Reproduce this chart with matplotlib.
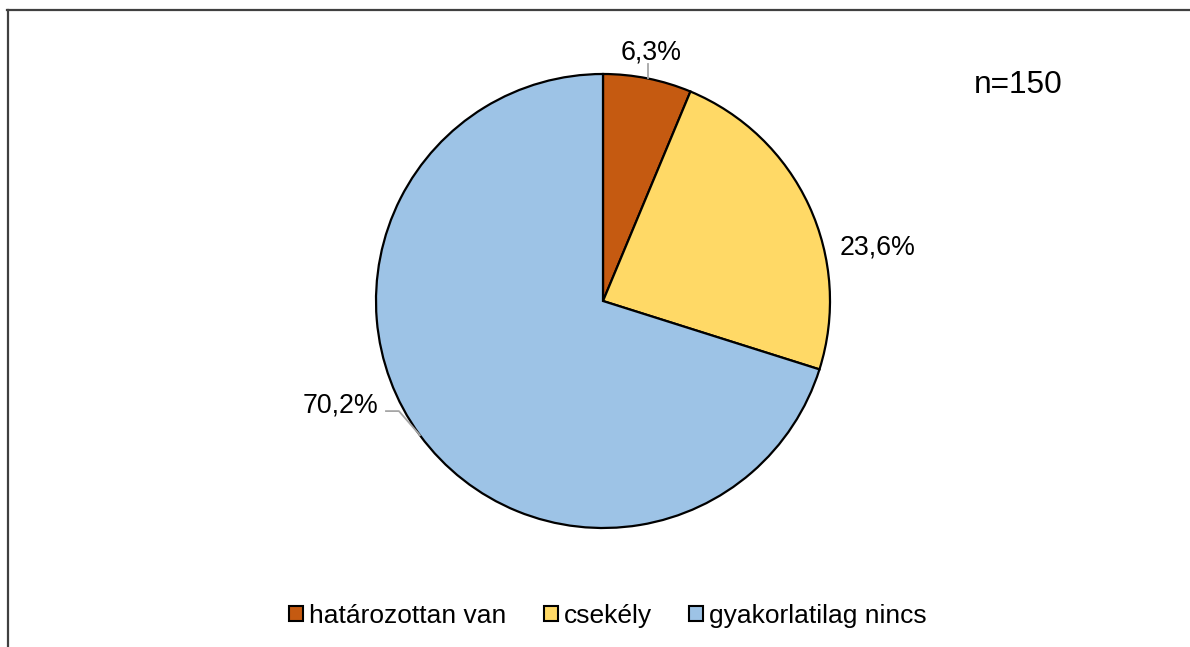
import numpy as np
import matplotlib.pyplot as plt
from matplotlib.patches import Patch
from matplotlib.lines import Line2D

plt.rcParams['font.family'] = ['Liberation Sans', 'DejaVu Sans']

# Adatok
kategoriak = ['határozottan van', 'csekély', 'gyakorlatilag nincs']
ertekek = [6.3, 23.6, 70.2]
cimkek = ['6,3%', '23,6%', '70,2%']
szinek = ['#C55A11', '#FFD966', '#9DC3E6']
n_felirat = 'n=150'

W, H = 1190, 647
fig = plt.figure(figsize=(W / 100, H / 100), dpi=100)

# kör helye pixelben
cx, cy, r = 603, 301, 227
ax = fig.add_axes([(cx - r) / W, 1 - (cy + r) / H, 2 * r / W, 2 * r / H])
wedges, _ = ax.pie(ertekek, colors=szinek, startangle=90, counterclock=False,
                   radius=1, wedgeprops=dict(edgecolor='black', linewidth=1.6))
ax.set_xlim(-1, 1)
ax.set_ylim(-1, 1)
ax.axis('off')

# szelet közepének pontja a kör szélén
def szel(i):
    w = wedges[i]
    a = np.deg2rad((w.theta1 + w.theta2) / 2)
    return np.cos(a), np.sin(a)

fs = 19.3
szurke = '#A6A6A6'

# 6,3%
ex, ey = szel(0)
ax.text(0.211, 1.062, cimkek[0], ha='center', va='baseline', fontsize=fs, clip_on=False)
ax.plot([ex, ex], [1.044, ey], color=szurke, lw=1.3, clip_on=False)

# 23,6%
ax.text(1.21, 0.207, cimkek[1], ha='center', va='baseline', fontsize=fs, clip_on=False)

# 70,2%
ex, ey = szel(2)
ax.text(-0.99, -0.489, cimkek[2], ha='right', va='baseline', fontsize=fs, clip_on=False)
ax.plot([-0.956, -0.899, ex], [-0.485, -0.485, ey], color=szurke, lw=1.3, clip_on=False)

fig.text(1018 / W, 1 - 93 / H, n_felirat, ha='center', va='baseline', fontsize=22.8)

# jelmagyarázat
handles = [Patch(facecolor=c, edgecolor='black', linewidth=1.5) for c in szinek]
fig.legend(handles, kategoriak, loc='center', bbox_to_anchor=(608 / W, 1 - 616 / H),
           ncol=3, frameon=False, fontsize=19, handlelength=0.53, handleheight=0.53,
           handletextpad=0.23, columnspacing=1.42, borderpad=0, borderaxespad=0)

# keret (felső és bal oldali vonal)
fig.add_artist(Line2D([7 / W, 1], [1 - 10 / H, 1 - 10 / H], transform=fig.transFigure,
                      color='#404040', lw=1.6))
fig.add_artist(Line2D([7.5 / W, 7.5 / W], [0, 1 - 10 / H], transform=fig.transFigure,
                      color='#404040', lw=1.6))

fig.savefig('out.png', dpi=100)
